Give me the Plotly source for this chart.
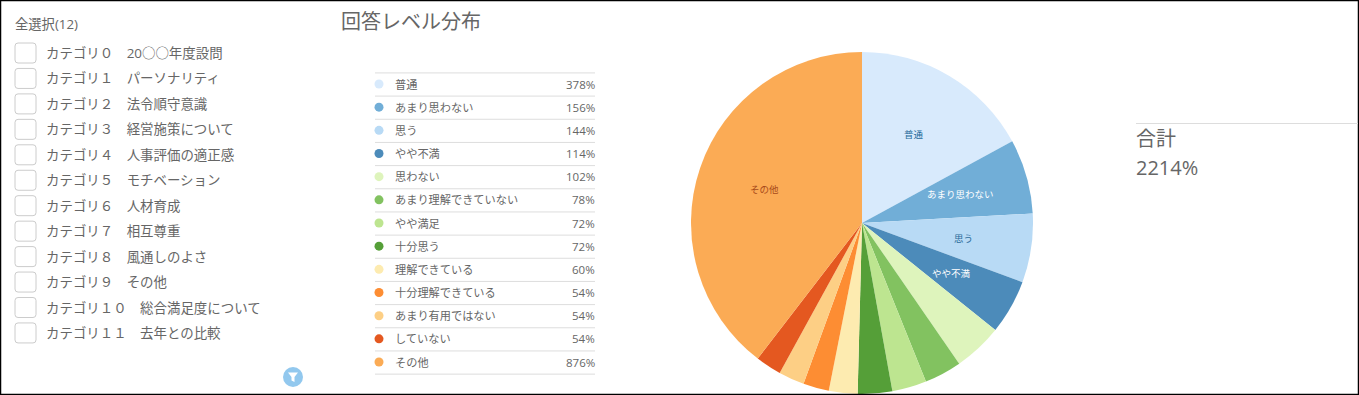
import math
import plotly.graph_objects as go

W, H = 1359, 395
FONT = "Open Sans, Noto Sans CJK JP, sans-serif"
INK = "#666666"

title = "回答レベル分布"
select_all = "全選択(12)"
categories = ["カテゴリ０　20○○年度設問", "カテゴリ１　パーソナリティ", "カテゴリ２　法令順守意識",
              "カテゴリ３　経営施策について", "カテゴリ４　人事評価の適正感", "カテゴリ５　モチベーション",
              "カテゴリ６　人材育成", "カテゴリ７　相互尊重", "カテゴリ８　風通しのよさ", "カテゴリ９　その他",
              "カテゴリ１０　総合満足度について", "カテゴリ１１　去年との比較"]

levels = ["普通", "あまり思わない", "思う", "やや不満", "思わない", "あまり理解できていない", "やや満足",
          "十分思う", "理解できている", "十分理解できている", "あまり有用ではない", "していない", "その他"]
values = [378, 156, 144, 114, 102, 78, 72, 72, 60, 54, 54, 54, 876]
colors = ["#d8eafc", "#71aed7", "#b8daf5", "#4c8bba", "#def4bc", "#82c260", "#bde590", "#559f38",
          "#fdebb0", "#fd8d33", "#fdcf85", "#e45820", "#fbab55"]
pie_labels = ["普通", "あまり思わない", "思う", "やや不満", "", "", "", "", "", "", "", "", "その他"]
pie_label_colors = ["#1f6a9a", "#ffffff", "#2a6a9a", "#ffffff", INK, INK, INK, INK, INK, INK, INK, INK, "#a84a1a"]
total_label = "合計"
total_value = "2214%"

ROW0, ROWH = 84.0, 23.17
CAT0, CATH = 53.0, 25.45

fig = go.Figure()
cx, cy, r = 862, 223, 171
fig.add_trace(go.Pie(
    labels=levels, values=values, textinfo="none", sort=False, direction="clockwise",
    rotation=0, marker=dict(colors=colors, line=dict(width=0)),
    domain=dict(x=[(cx - r) / W, (cx + r) / W], y=[1 - (cy + r) / H, 1 - (cy - r) / H]),
    showlegend=False, hoverinfo="label+percent",
))
fig.add_trace(go.Scatter(
    x=[379] * len(levels), y=[ROW0 + i * ROWH for i in range(len(levels))], mode="markers",
    marker=dict(size=9, color=colors), showlegend=False, hoverinfo="skip", xaxis="x", yaxis="y",
))

shapes, ann = [], []
def text(x, y, s, size, anchor="left", color=INK):
    shift = {"left": -2, "right": 2, "center": 0}[anchor]
    ann.append(dict(x=x, y=y, text=s, xref="x", yref="y", showarrow=False, xanchor=anchor, yanchor="middle",
                    xshift=shift, font=dict(size=size, color=color, family=FONT)))

shapes.append(dict(type="rect", x0=0.5, y0=0.5, x1=W - 0.5, y1=H - 0.5, line=dict(color="#000", width=1.5), xref="x", yref="y"))
text(15, 24, select_all, 13.3)
for i, c in enumerate(categories):
    y = CAT0 + i * CATH
    shapes.append(dict(type="path", xref="x", yref="y",
                       path=f"M18,{y-10} H33 Q36,{y-10} 36,{y-7} V{y+7} Q36,{y+10} 33,{y+10} H18 Q15,{y+10} 15,{y+7} V{y-7} Q15,{y-10} 18,{y-10} Z",
                       line=dict(color="#cccccc", width=1), fillcolor="#fff"))
    text(46, y, c, 13.45)

text(341, 21, title, 20)
for i in range(len(levels) + 1):
    y = ROW0 + (i - 0.5) * ROWH + 0.5
    shapes.append(dict(type="line", x0=375, x1=595, y0=y, y1=y, xref="x", yref="y", line=dict(color="#dddddd", width=1)))
for i, (l, v) in enumerate(zip(levels, values)):
    y = ROW0 + i * ROWH
    text(395, y, l, 11.2)
    text(595, y, f"{v}%", 11.5, anchor="right")

# slice labels sit on each slice's mid-angle
total = sum(values)
acc = 0
for v, l, c in zip(values, pie_labels, pie_label_colors):
    mid = (acc + v / 2) / total * 2 * math.pi
    acc += v
    if l:
        text(cx + 0.6 * r * math.sin(mid), cy - 0.6 * r * math.cos(mid), l, 9.5, anchor="center", color=c)

shapes.append(dict(type="line", x0=1136, x1=W - 1, y0=123.5, y1=123.5, xref="x", yref="y", line=dict(color="#dddddd", width=1)))
text(1136, 138, total_label, 20)
text(1136, 167, total_value, 20)

shapes.append(dict(type="circle", x0=283, x1=303, y0=367, y1=387, xref="x", yref="y", fillcolor="#92c8ee", line=dict(width=0)))
shapes.append(dict(type="path", path="M288,372.5 H298 L294.5,377 V382 L291.5,380.5 V377 Z", xref="x", yref="y", fillcolor="#fff", line=dict(width=0)))

fig.update_layout(
    width=W, height=H, margin=dict(l=0, r=0, t=0, b=0), paper_bgcolor="#fff", plot_bgcolor="rgba(0,0,0,0)",
    xaxis=dict(range=[0, W], visible=False, fixedrange=True),
    yaxis=dict(range=[H, 0], visible=False, fixedrange=True),
    shapes=shapes, annotations=ann, font=dict(family=FONT),
)
fig.write_html("out.html", config=dict(displayModeBar=False),
               post_script="document.body.style.margin='0';document.body.style.overflow='hidden';")
